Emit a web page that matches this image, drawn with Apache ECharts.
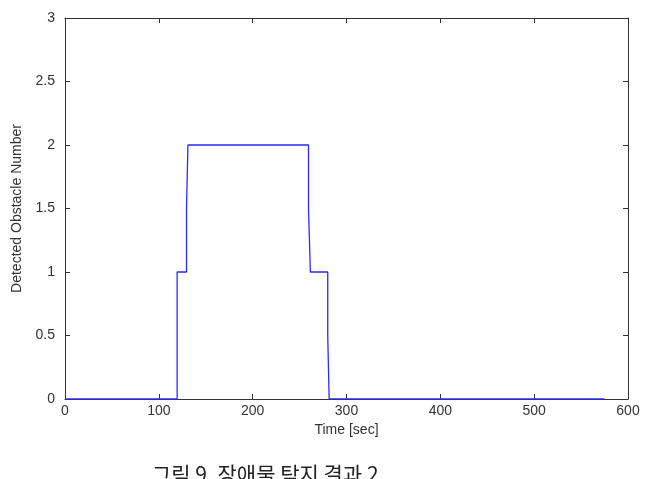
<!DOCTYPE html>
<html><head><meta charset="utf-8">
<script src="https://cdn.jsdelivr.net/npm/echarts@6/dist/echarts.min.js"></script>
<style>html,body{margin:0;padding:0;background:#fff}#c{width:651px;height:479px}</style>
</head><body><div id="c"></div>
<script>
var timeSec = [0, 119.5, 119.5, 129.5, 129.5, 131, 131, 259.5, 259.5, 261.5, 261.5, 280, 280, 281.5, 281.5, 575];
var obstacleCount = [0, 0, 1, 1, 1.5, 1.5, 2, 2, 1.5, 1.5, 1, 1, 0.5, 0.5, 0, 0];
var xTicks = [0, 100, 200, 300, 400, 500, 600];
var yTicks = [0, 0.5, 1, 1.5, 2, 2.5, 3];
var xTitle = 'Time [sec]';
var yTitle = 'Detected Obstacle Number';
var caption = '그림 9. 장애물 탐지 결과 2';

var pts = timeSec.map(function (t, i) { return [t, obstacleCount[i]]; });
var chart = echarts.init(document.getElementById('c'), null, {renderer: 'canvas'});
var font = 'Liberation Sans, Arial, sans-serif';
function axisCommon() {
  return {
    axisLine: {show: true, onZero: false, lineStyle: {color: '#333', width: 1}},
    axisTick: {show: true, inside: true, length: 5, lineStyle: {color: '#333'}},
    splitLine: {show: false}
  };
}
chart.setOption({
  animation: false,
  grid: {left: 65, right: 23, top: 18, bottom: 80, containLabel: false},
  xAxis: [
    Object.assign(axisCommon(), {type: 'value', min: 0, max: 600, interval: 100, position: 'bottom',
      name: xTitle, nameLocation: 'middle', nameGap: 24,
      nameTextStyle: {fontFamily: font, fontSize: 14, color: '#333'},
      axisLabel: {fontFamily: font, fontSize: 14, color: '#333', margin: 5,
        formatter: function (v) { return xTicks.indexOf(v) >= 0 ? String(v) : ''; }}}),
    Object.assign(axisCommon(), {type: 'value', min: 0, max: 600, interval: 100, position: 'top',
      axisLabel: {show: false}})
  ],
  yAxis: [
    Object.assign(axisCommon(), {type: 'value', min: 0, max: 3, interval: 0.5, position: 'left',
      name: yTitle, nameLocation: 'middle', nameGap: 40, nameRotate: 90,
      nameTextStyle: {fontFamily: font, fontSize: 14, color: '#333'},
      axisLabel: {fontFamily: font, fontSize: 14, color: '#333', margin: 10,
        formatter: function (v) { return yTicks.indexOf(v) >= 0 ? String(v) : ''; }}}),
    Object.assign(axisCommon(), {type: 'value', min: 0, max: 3, interval: 0.5, position: 'right',
      axisLabel: {show: false}})
  ],
  series: [{
    type: 'line', data: pts, showSymbol: false, symbol: 'none',
    lineStyle: {color: '#2a2aff', width: 1.3}, z: 1
  }],
  graphic: [{
    type: 'text', left: 152, top: 464,
    style: {text: caption, fontFamily: 'Noto Sans CJK KR', fontSize: 21, fill: '#222'}
  }]
});
</script></body></html>
